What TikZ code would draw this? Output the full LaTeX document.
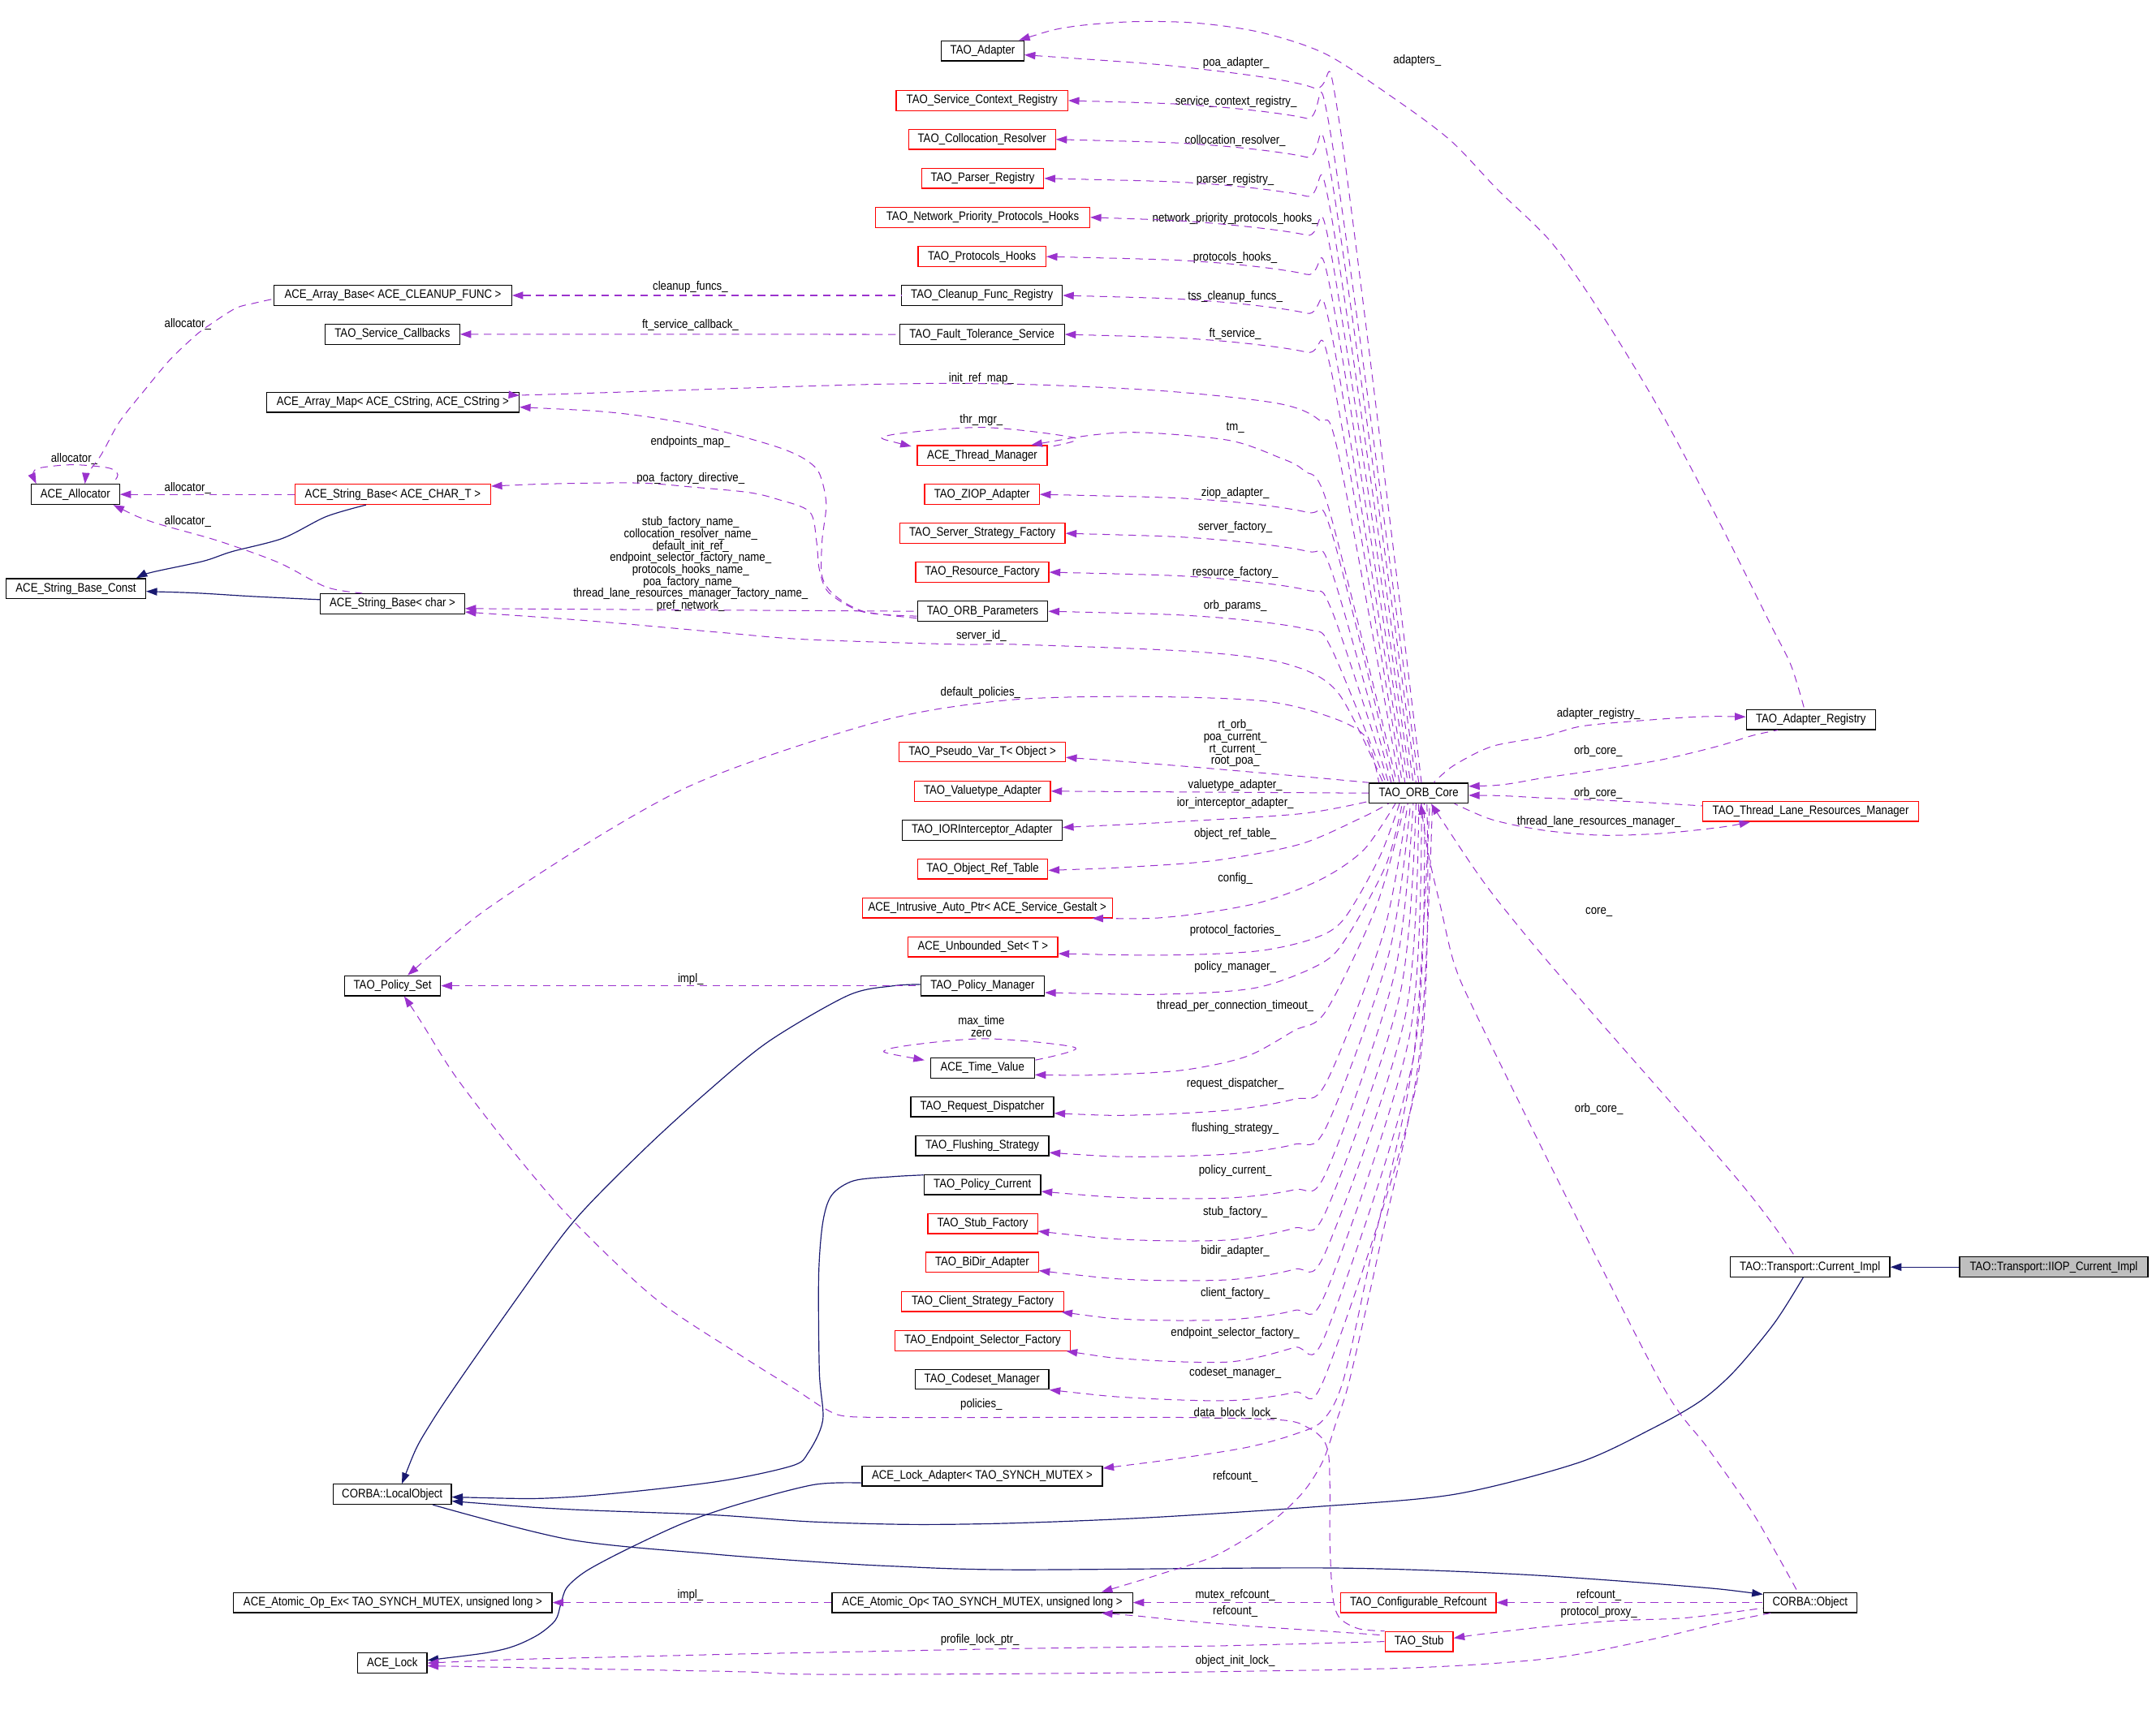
\documentclass[tikz,border=0pt]{standalone}
\usepackage{fontspec}
\setmainfont{Liberation Sans}[FakeStretch=0.867]
\usepackage{tikz}
\usetikzlibrary{arrows.meta}
\definecolor{usesviolet}{RGB}{154,50,205}
\definecolor{inheritblue}{RGB}{25,25,112}
\definecolor{selfgray}{RGB}{191,191,191}
\tikzset{
  classnode/.style = {rectangle, draw=black, fill=white, line width=0.75pt,
    inner sep=0pt, minimum height=14.6pt, font=\fontsize{9}{8.7}\selectfont},
  black_node/.style = {classnode},
  red_node/.style = {classnode, draw=red},
  self_node/.style = {classnode, fill=selfgray},
  edge_label/.style = {inner sep=0pt, align=center,
    font=\fontsize{9}{8.7}\selectfont},
  uses_edge/.style = {<-, draw=usesviolet, line width=0.6pt,
    dash pattern=on 5.5pt off 4pt},
  inherit_edge/.style = {<-, draw=inheritblue, line width=0.7pt}
}

\begin{document}
\begin{tikzpicture}[
    x=1pt, y=-1pt,
    >={Triangle[length=8pt,width=5.5pt]}
    ]
  \useasboundingbox (0,0) rectangle (1568,1265);

  % classes, far left and left column
  \node[black_node, minimum width=64.4pt] (allocator) at (54.9,360.3) {ACE\_Allocator};
  \node[black_node, minimum width=101.6pt] (strconst) at (55.3,429) {ACE\_String\_Base\_Const};
  \node[black_node, minimum width=173pt] (arraybase) at (286.3,215.3) {ACE\_Array\_Base< ACE\_CLEANUP\_FUNC >};
  \node[black_node, minimum width=98pt] (svccallbacks) at (285.9,243.6) {TAO\_Service\_Callbacks};
  \node[black_node, minimum width=184pt] (arraymap) at (286.2,293.2) {ACE\_Array\_Map< ACE\_CString, ACE\_CString >};
  \node[red_node, minimum width=142.6pt] (strbasechart) at (286.2,360.3) {ACE\_String\_Base< ACE\_CHAR\_T >};
  \node[black_node, minimum width=105pt] (strbasechar) at (286,440) {ACE\_String\_Base< char >};
  \node[black_node, minimum width=70pt] (policyset) at (286,718.4) {TAO\_Policy\_Set};
  \node[black_node, minimum width=86pt] (localobj) at (285.8,1089) {CORBA::LocalObject};
  \node[black_node, minimum width=232pt] (atomicex) at (286.2,1167.9) {ACE\_Atomic\_Op\_Ex< TAO\_SYNCH\_MUTEX, unsigned long >};
  \node[black_node, minimum width=50.6pt] (acelock) at (285.8,1212) {ACE\_Lock};

  % classes, middle column
  \node[black_node, minimum width=60pt] (adapter) at (716,37) {TAO\_Adapter};
  \node[red_node, minimum width=125pt] (svcctx) at (715.5,73.3) {TAO\_Service\_Context\_Registry};
  \node[red_node, minimum width=107pt] (colloc) at (715.5,101.6) {TAO\_Collocation\_Resolver};
  \node[red_node, minimum width=89pt] (parser) at (716,130) {TAO\_Parser\_Registry};
  \node[red_node, minimum width=156pt] (netprio) at (716,158.4) {TAO\_Network\_Priority\_Protocols\_Hooks};
  \node[red_node, minimum width=93pt] (prothooks) at (715.5,187) {TAO\_Protocols\_Hooks};
  \node[black_node, minimum width=117pt] (cleanup) at (715.5,215.3) {TAO\_Cleanup\_Func\_Registry};
  \node[black_node, minimum width=120pt] (ftservice) at (715.5,243.7) {TAO\_Fault\_Tolerance\_Service};
  \node[red_node, minimum width=94.6pt] (thrmgr) at (715.7,332) {ACE\_Thread\_Manager};
  \node[red_node, minimum width=83.5pt] (ziop) at (715.5,360.3) {TAO\_ZIOP\_Adapter};
  \node[red_node, minimum width=120.5pt] (srvfactory) at (715.8,388.7) {TAO\_Server\_Strategy\_Factory};
  \node[red_node, minimum width=97pt] (resfactory) at (715.7,417) {TAO\_Resource\_Factory};
  \node[black_node, minimum width=95pt] (orbparams) at (716,445.5) {TAO\_ORB\_Parameters};
  \node[red_node, minimum width=121pt] (pseudovar) at (715.7,548) {TAO\_Pseudo\_Var\_T< Object >};
  \node[red_node, minimum width=99pt] (valuetype) at (715.9,576.6) {TAO\_Valuetype\_Adapter};
  \node[black_node, minimum width=116.6pt] (iorinterceptor) at (715.6,605) {TAO\_IORInterceptor\_Adapter};
  \node[red_node, minimum width=95pt] (objreftable) at (716,633.3) {TAO\_Object\_Ref\_Table};
  \node[red_node, minimum width=182pt] (autoptr) at (719.4,661.6) {ACE\_Intrusive\_Auto\_Ptr< ACE\_Service\_Gestalt >};
  \node[red_node, minimum width=109pt] (unboundedset) at (716.2,690) {ACE\_Unbounded\_Set< T >};
  \node[black_node, minimum width=90pt] (policymgr) at (715.9,718.4) {TAO\_Policy\_Manager};
  \node[black_node, minimum width=75.7pt] (timevalue) at (715.8,778.3) {ACE\_Time\_Value};
  \node[black_node, minimum width=104pt] (reqdisp) at (715.7,806.6) {TAO\_Request\_Dispatcher};
  \node[black_node, minimum width=97pt] (flushing) at (715.7,835) {TAO\_Flushing\_Strategy};
  \node[black_node, minimum width=85pt] (policycur) at (715.8,863.3) {TAO\_Policy\_Current};
  \node[red_node, minimum width=80pt] (stubfactory) at (716,891.7) {TAO\_Stub\_Factory};
  \node[red_node, minimum width=82pt] (bidir) at (715.6,920) {TAO\_BiDir\_Adapter};
  \node[red_node, minimum width=118pt] (clientfactory) at (716,948.5) {TAO\_Client\_Strategy\_Factory};
  \node[red_node, minimum width=128pt] (endpointfactory) at (716,977) {TAO\_Endpoint\_Selector\_Factory};
  \node[black_node, minimum width=97.5pt] (codeset) at (715.5,1005.2) {TAO\_Codeset\_Manager};
  \node[black_node, minimum width=175pt] (lockadapter) at (715.7,1075.7) {ACE\_Lock\_Adapter< TAO\_SYNCH\_MUTEX >};
  \node[black_node, minimum width=219pt] (atomicop) at (715.7,1167.9) {ACE\_Atomic\_Op< TAO\_SYNCH\_MUTEX, unsigned long >};

  % classes, right part
  \node[black_node, minimum width=72pt] (orbcore) at (1033.7,578) {TAO\_ORB\_Core};
  \node[red_node, minimum width=113pt] (cfgrefcount) at (1033.5,1167.9) {TAO\_Configurable\_Refcount};
  \node[red_node, minimum width=49.5pt] (stub) at (1034,1196.3) {TAO\_Stub};
  \node[black_node, minimum width=94pt] (adapterreg) at (1319.4,524.4) {TAO\_Adapter\_Registry};
  \node[red_node, minimum width=157pt] (tlrm) at (1319.3,591.3) {TAO\_Thread\_Lane\_Resources\_Manager};
  \node[black_node, minimum width=116.4pt] (transportcur) at (1318.8,923.4) {TAO::Transport::Current\_Impl};
  \node[self_node, minimum width=137.2pt] (iiopcur) at (1496.4,923.4) {TAO::Transport::IIOP\_Current\_Impl};
  \node[black_node, minimum width=68pt] (corbaobj) at (1318.9,1167.9) {CORBA::Object};

  % member labels
  \node[edge_label] (l adapters) at (1032.6,44.4) {adapters\_};
  \node[edge_label] (l poa adapter) at (900.6,46) {poa\_adapter\_};
  \node[edge_label] (l svcctx) at (900.6,74.5) {service\_context\_registry\_};
  \node[edge_label] (l colloc) at (900,102.7) {collocation\_resolver\_};
  \node[edge_label] (l parser) at (900,131) {parser\_registry\_};
  \node[edge_label] (l netprio) at (900,159.5) {network\_priority\_protocols\_hooks\_};
  \node[edge_label] (l prothooks) at (900,187.7) {protocols\_hooks\_};
  \node[edge_label] (l cleanup) at (503,209) {cleanup\_funcs\_};
  \node[edge_label] (l tss) at (900,216.3) {tss\_cleanup\_funcs\_};
  \node[edge_label] (l alloc a) at (136.8,236) {allocator\_};
  \node[edge_label] (l ftcallback) at (503,237) {ft\_service\_callback\_};
  \node[edge_label] (l ftservice) at (900,243.4) {ft\_service\_};
  \node[edge_label] (l initref) at (715,276) {init\_ref\_map\_};
  \node[edge_label] (l thrmgr) at (715,306) {thr\_mgr\_};
  \node[edge_label] (l tm) at (900,312) {tm\_};
  \node[edge_label] (l endpoints) at (503,322) {endpoints\_map\_};
  \node[edge_label] (l alloc self) at (54.1,334.5) {allocator\_};
  \node[edge_label] (l poadirective) at (503.2,348.9) {poa\_factory\_directive\_};
  \node[edge_label] (l alloc b) at (136.8,355.8) {allocator\_};
  \node[edge_label] (l ziop) at (900,359.4) {ziop\_adapter\_};
  \node[edge_label] (l alloc c) at (136.8,379.9) {allocator\_};
  \node[edge_label] (l srvfactory) at (900,384.4) {server\_factory\_};
  \node[edge_label] (l names) at (503.2,411.2) {stub\_factory\_name\_\\collocation\_resolver\_name\_\\default\_init\_ref\_\\endpoint\_selector\_factory\_name\_\\protocols\_hooks\_name\_\\poa\_factory\_name\_\\thread\_lane\_resources\_manager\_factory\_name\_\\pref\_network\_};
  \node[edge_label] (l resfactory) at (900,417.3) {resource\_factory\_};
  \node[edge_label] (l orbparams) at (900,441.6) {orb\_params\_};
  \node[edge_label] (l serverid) at (715,463.6) {server\_id\_};
  \node[edge_label] (l defpolicies) at (714.4,504.6) {default\_policies\_};
  \node[edge_label] (l adapterreg) at (1164.7,520.4) {adapter\_registry\_};
  \node[edge_label] (l pseudo) at (900,541.7) {rt\_orb\_\\poa\_current\_\\rt\_current\_\\root\_poa\_};
  \node[edge_label] (l orbcore a) at (1164.5,547.6) {orb\_core\_};
  \node[edge_label] (l valuetype) at (900,572.3) {valuetype\_adapter\_};
  \node[edge_label] (l orbcore b) at (1164.5,578.2) {orb\_core\_};
  \node[edge_label] (l ior) at (900,585.5) {ior\_interceptor\_adapter\_};
  \node[edge_label] (l tlrm) at (1165,599) {thread\_lane\_resources\_manager\_};
  \node[edge_label] (l objref) at (900,607.7) {object\_ref\_table\_};
  \node[edge_label] (l config) at (900,640.6) {config\_};
  \node[edge_label] (l core) at (1165,665) {core\_};
  \node[edge_label] (l protfact) at (900,678) {protocol\_factories\_};
  \node[edge_label] (l policymgr) at (900,704.7) {policy\_manager\_};
  \node[edge_label] (l impl a) at (503.2,713.6) {impl\_};
  \node[edge_label] (l tpct) at (900,733) {thread\_per\_connection\_timeout\_};
  \node[edge_label] (l maxtime) at (715,748) {max\_time\\zero};
  \node[edge_label] (l reqdisp) at (900,789.7) {request\_dispatcher\_};
  \node[edge_label] (l orbcore c) at (1165,808) {orb\_core\_};
  \node[edge_label] (l flushing) at (900,822.3) {flushing\_strategy\_};
  \node[edge_label] (l policycur) at (900,853.2) {policy\_current\_};
  \node[edge_label] (l stubfact) at (900,883.5) {stub\_factory\_};
  \node[edge_label] (l bidir) at (900,911.9) {bidir\_adapter\_};
  \node[edge_label] (l client) at (900,942.3) {client\_factory\_};
  \node[edge_label] (l endpoint) at (900,971.4) {endpoint\_selector\_factory\_};
  \node[edge_label] (l codeset) at (900,1000.5) {codeset\_manager\_};
  \node[edge_label] (l policies) at (715,1023.5) {policies\_};
  \node[edge_label] (l datablock) at (900,1030) {data\_block\_lock\_};
  \node[edge_label] (l refcount a) at (900,1076.3) {refcount\_};
  \node[edge_label] (l impl b) at (503,1162.6) {impl\_};
  \node[edge_label] (l mutexref) at (900,1162.6) {mutex\_refcount\_};
  \node[edge_label] (l refcount b) at (1165,1162.6) {refcount\_};
  \node[edge_label] (l refcount c) at (900,1174.5) {refcount\_};
  \node[edge_label] (l proxy) at (1165,1175) {protocol\_proxy\_};
  \node[edge_label] (l profilelock) at (714,1195) {profile\_lock\_ptr\_};
  \node[edge_label] (l initlock) at (900,1210.5) {object\_init\_lock\_};

  % inheritance
  \draw[inherit_edge] (transportcur.east) -- (iiopcur.west);
  \draw[inherit_edge] plot[smooth] coordinates {([yshift=-5pt]localobj.east) (415,1100) (519,1104) (591,1109) (665,1111) (739,1110) (837,1106) (960,1098) (1060,1089) (1150,1066) (1204,1041) (1239,1021) (1264,999) (1293,964) ([xshift=-5pt]transportcur.south)};
  \draw[inherit_edge] plot[smooth] coordinates {([yshift=-2pt]localobj.east) (415,1091) (518.6,1080.3) (576.6,1068.4) (589,1058.5) (599.5,1035) (597,1000) (596.5,930) (599.5,891) (606,871) (622,860.5) (650.5,857.5) ([yshift=7pt]policycur.west)};
  \draw[inherit_edge] plot[smooth] coordinates {([xshift=7pt]localobj.north) (315.3,1035) (377.5,945) (419,889) (469,838) (514.5,796.4) (560,759) (618,725.4) (650.5,718.5) ([yshift=1pt]policymgr.west)};
  \draw[inherit_edge] plot[smooth] coordinates {([yshift=6pt]corbaobj.west) (1229,1156) (1106,1147.3) (969,1142.7) (738.5,1144) (650.5,1141.4) (591,1138) (518.6,1132.5) (415,1122) ([xshift=29.5pt]localobj.south)};
  \draw[inherit_edge] plot[smooth] coordinates {([yshift=2pt]acelock.east) (365,1202.4) (390,1192.6) (404.5,1181) (408.6,1169) (413,1157) (427,1145) (456,1129.5) (498,1110) (539,1096) (593,1082) ([yshift=-5pt]lockadapter.west)};
  \draw[inherit_edge] plot[smooth] coordinates {([xshift=44pt]strconst.north) (111,417) (148,409) (169,402) (206,392.3) (237.6,376.5) ([xshift=-19.5pt]strbasechart.south)};
  \draw[inherit_edge] plot[smooth] coordinates {([yshift=-2pt]strconst.east) (145,432.3) (184.8,434.7) ([yshift=3pt]strbasechar.west)};

  % left cluster members
  \draw[uses_edge] (arraybase.east) -- (cleanup.west);
  \draw[uses_edge] (svccallbacks.east) -- (ftservice.west);
  \draw[uses_edge] plot[smooth] coordinates {([xshift=7pt]allocator.north) (64,345) (74,331) (87,307.5) (105.6,284) (124,262) (142.6,244.4) (153,236.6) (171.6,224.7) (185,221) ([yshift=-2.5pt]arraybase.west)};
  \draw[uses_edge] plot[smooth] coordinates {([xshift=-28.5pt]allocator.north) (24,345) (29,341) (53,338.7) (79,341) (85.8,346) ([xshift=27pt]allocator.north)};
  \draw[uses_edge] (allocator.east) -- (strbasechart.west);
  \draw[uses_edge] plot[smooth] coordinates {([xshift=-5pt]allocator.south east) (111,380.4) (158.5,394) (203,410) (237.6,427.8) ([xshift=-22pt]strbasechar.north)};
  \draw[uses_edge] plot[smooth] coordinates {([yshift=-3.5pt]arraymap.east) (450,301) (503,309) (540,318) (570,327) (587,335) (597,345) (602,367) (599,394) (599,420) (608,433.7) (629,445.5) ([yshift=-5pt]orbparams.west)};
  \draw[uses_edge] plot[smooth] coordinates {([yshift=6pt]strbasechart.east) (406,352.5) (466,352) (505,355) (545,358.8) (566,363.7) (590,373) (595,395) (597,415) (604,432) (629,446) ([yshift=-3.5pt]orbparams.west)};
  \draw[uses_edge] ([yshift=-3.5pt]strbasechar.east) -- (orbparams.west);
  \draw[uses_edge] (policyset.east) -- (policymgr.west);
  \draw[uses_edge] (atomicex.east) -- (atomicop.west);

  % TAO_ORB_Core members, upper rows
  \draw[uses_edge] plot[smooth] coordinates {([yshift=-3pt]adapter.east) (872,50) (957,64) (976,90) ([xshift=2pt]orbcore.north)};
  \draw[uses_edge] plot[smooth] coordinates {(svcctx.east) (880,77.3) (952,86.3) (970,100.3) (orbcore.north)};
  \draw[uses_edge] plot[smooth] coordinates {(colloc.east) (880,105.6) (952,114.6) (970,128.6) ([xshift=-2pt]orbcore.north)};
  \draw[uses_edge] plot[smooth] coordinates {(parser.east) (880,134) (952,143) (970,157) ([xshift=-4pt]orbcore.north)};
  \draw[uses_edge] plot[smooth] coordinates {(netprio.east) (880,162.4) (952,171.4) (970,185.4) ([xshift=-6pt]orbcore.north)};
  \draw[uses_edge] plot[smooth] coordinates {(prothooks.east) (880,191) (952,200) (970,214) ([xshift=-8pt]orbcore.north)};
  \draw[uses_edge] plot[smooth] coordinates {(cleanup.east) (880,219.3) (952,228.3) (970,242.3) ([xshift=-10pt]orbcore.north)};
  \draw[uses_edge] plot[smooth] coordinates {(ftservice.east) (880,247.7) (952,256.7) (970,270.7) ([xshift=-12pt]orbcore.north)};
  \draw[uses_edge] plot[smooth] coordinates {([yshift=5pt]arraymap.east) (414,287) (640,280) (742,280) (849,285) (931,294) (961,306) (975,330) ([xshift=-14pt]orbcore.north)};
  \draw[uses_edge] plot[smooth] coordinates {([xshift=-12pt]thrmgr.north east) (802,316.4) (837,315.4) (896,321) (931,333) (950,343) (968,370) ([xshift=-16pt]orbcore.north)};
  \draw[uses_edge] plot[smooth] coordinates {([xshift=-4pt,yshift=-1pt]thrmgr.north west) (647,317.4) (716,311.5) (783.6,319.3) ([yshift=-1.5pt]thrmgr.north east)};
  \draw[uses_edge] plot[smooth] coordinates {(ziop.east) (880,364.3) (952,373.3) (970,387.3) ([xshift=-18pt]orbcore.north)};
  \draw[uses_edge] plot[smooth] coordinates {(srvfactory.east) (880,392.7) (952,401.7) (970,415.7) ([xshift=-20pt]orbcore.north)};
  \draw[uses_edge] plot[smooth] coordinates {(resfactory.east) (880,421) (952,430) (970,444) ([xshift=-22pt]orbcore.north)};
  \draw[uses_edge] plot[smooth] coordinates {(orbparams.east) (880,449.5) (952,458.5) (970,472.5) ([xshift=-24pt]orbcore.north)};
  \draw[uses_edge] plot[smooth] coordinates {([yshift=-6pt]strbasechar.east) (436,453) (526,461) (587,466) (698,469.6) (739,469.6) (872,475) (938,484) (975,505) ([xshift=-26pt]orbcore.north)};
  \draw[uses_edge] plot[smooth] coordinates {([xshift=11pt]policyset.north) (373,650) (500,574) (638.7,526.3) (731.5,510.5) (824,507.6) (917,510.5) (963,520.4) (994,536) ([xshift=-29pt]orbcore.north)};

  % TAO_ORB_Core members, side rows
  \draw[uses_edge] plot[smooth] coordinates {([yshift=-4pt]pseudovar.east) (855,557.8) (948,565.8) (orbcore.north west)};
  \draw[uses_edge] (valuetype.east) -- (orbcore.west);
  \draw[uses_edge] plot[smooth] coordinates {([yshift=2pt]iorinterceptor.east) (855,599) (948,593) ([yshift=-6pt]orbcore.west)};
  \draw[uses_edge] plot[smooth] coordinates {([yshift=-1pt]objreftable.east) (824,631.8) (886,627) (948,615) (994,595) ([xshift=-22pt]orbcore.south)};
  \draw[uses_edge] plot[smooth] coordinates {([xshift=-15pt]autoptr.south east) (855,668) (917,658) (963,640.6) (994,619) ([xshift=-17pt]orbcore.south)};
  \draw[uses_edge] plot[smooth] coordinates {([yshift=-5pt]unboundedset.east) (855,696) (917,693) (957,684) (979,670) (1005,625) ([xshift=-14pt]orbcore.south)};
  \draw[uses_edge] plot[smooth] coordinates {([yshift=-5pt]policymgr.east) (855,724.4) (917,719.5) (963,702) (982,682) (1010,630) ([xshift=-12pt]orbcore.south)};

  % TAO_ORB_Core members, lower rows
  \draw[uses_edge] plot[smooth] coordinates {([yshift=-5pt]timevalue.east) (802,783.3) (861,780) (908,770) (943,751) (966,737) (1003,660) ([xshift=-10pt]orbcore.south)};
  \draw[uses_edge] plot[smooth] coordinates {([shift={(-4pt,-2pt)}]timevalue.north west) (647,764.6) (715.6,757) (783.6,763.5) ([yshift=-2pt]timevalue.north east)};
  \draw[uses_edge] plot[smooth] coordinates {([yshift=-4.7pt]reqdisp.east) (826,812.7) (896,809) (943,801) (966,789.5) (1008,680) ([xshift=-8pt]orbcore.south)};
  \draw[uses_edge] plot[smooth] coordinates {([yshift=-5pt]flushing.east) (826,843) (896,841) (943,834) (966,822) (1012,695) ([xshift=-6pt]orbcore.south)};
  \draw[uses_edge] plot[smooth] coordinates {([yshift=-5pt]policycur.east) (826,873) (896,873) (943,867) (966,855) (1016,710) ([xshift=-4pt]orbcore.south)};
  \draw[uses_edge] plot[smooth] coordinates {([yshift=-5.6pt]stubfactory.east) (826,903.6) (896,903.6) (943,895) (966,883) (1020,725) ([xshift=-2pt]orbcore.south)};
  \draw[uses_edge] plot[smooth] coordinates {([yshift=-6pt]bidir.east) (826,932.6) (896,932.6) (943,925) (966,912) (1024,740) (orbcore.south)};
  \draw[uses_edge] plot[smooth] coordinates {([xshift=-2pt]clientfactory.south east) (826,961.7) (896,961.7) (943,955) (966,942) (1027,755) ([xshift=2pt]orbcore.south)};
  \draw[uses_edge] plot[smooth] coordinates {([xshift=-3.4pt]endpointfactory.south east) (826,990.7) (896,992.5) (943,982) (966,972) (1030,770) ([xshift=4pt]orbcore.south)};
  \draw[uses_edge] plot[smooth] coordinates {(codeset.south east) (826,1018.7) (896,1020.7) (943,1014.6) (966,1002) (1033,785) ([xshift=6pt]orbcore.south)};
  \draw[uses_edge] plot[smooth] coordinates {([yshift=-2pt]lockadapter.north east) (861,1062.5) (910,1054.5) (944,1045) (964,1035) (979,1005) (1000,910) (1030,770) ([xshift=8pt]orbcore.south)};
  \draw[uses_edge] plot[smooth] coordinates {([xshift=-23pt]atomicop.north east) (846,1147) (886,1133.5) (925,1110) (949,1088) (964,1064.5) (974,1035) (983.5,1005) (1005,910) (1034,770) ([xshift=10pt]orbcore.south)};

  % right part
  \draw[uses_edge] plot[smooth] coordinates {([yshift=2pt]adapterreg.west) (1237,522.4) (1194,525.3) (1152,529.3) (1124,537) (1087,544) (1059,558) ([xshift=11pt]orbcore.north)};
  \draw[uses_edge] plot[smooth] coordinates {([yshift=5pt]orbcore.east) (1096,571.7) (1124,567) (1160,561.8) (1209,554) (1251,544) (1277,536) ([xshift=-24pt]adapterreg.south)};
  \draw[uses_edge] plot[smooth] coordinates {([yshift=-1.6pt]orbcore.east) (1096,580) (1124,581.5) (1152,582.5) (1194,584.5) ([yshift=4pt]tlrm.west)};
  \draw[uses_edge] plot[smooth] coordinates {([xshift=-44pt]tlrm.south) (1251,603.2) (1209,607.5) (1166,608.7) (1124,605) (1087,597.3) ([xshift=26pt]orbcore.south)};
  \draw[uses_edge] plot[smooth] coordinates {([xshift=-4pt]adapter.north east) (779,19.7) (825.6,15.8) (872,16.8) (919,23.7) (966,39.4) (1017.5,72.9) (1057,102.5) (1091,138) (1131,177.4) (1168,230.6) (1210,300) (1255,385) (1290,455) (1305,485) ([xshift=-4.7pt]adapterreg.north)};
  \draw[uses_edge] plot[smooth] coordinates {([xshift=9pt]orbcore.south) (1112,682) (1266,859.5) ([xshift=-11pt]transportcur.north)};
  \draw[uses_edge] plot[smooth] coordinates {([xshift=1.5pt]orbcore.south) (1040.8,622.8) (1050,662.4) (1059.4,701.8) (1074.6,737.3) (1140,870) (1212,1011) (1244,1055) (1278,1104) ([xshift=-9pt]corbaobj.north)};

  % bottom row
  \draw[uses_edge] (atomicop.east) -- (cfgrefcount.west);
  \draw[uses_edge] (cfgrefcount.east) -- (corbaobj.west);
  \draw[uses_edge] plot[smooth] coordinates {([xshift=-23pt]atomicop.south east) (827,1177.5) (861,1181) (910,1185) (984,1190) ([yshift=4.5pt]stub.west)};
  \draw[uses_edge] plot[smooth] coordinates {([yshift=2.5pt]stub.east) (1082,1190.6) (1131,1185) (1180,1181) (1229,1179) ([yshift=-4pt]corbaobj.west)};
  \draw[uses_edge] plot[smooth] coordinates {(acelock.east) (373,1209.4) (415,1208.4) (539,1205.4) (591,1204.4) (738.5,1201.5) (886,1199.5) (stub.west)};
  \draw[uses_edge] plot[smooth] coordinates {([yshift=-2pt]acelock.east) (415,1216) (539,1218.3) (591,1220.2) (738.5,1219.8) (886,1218.3) (1033,1215.3) (1131,1208.4) (1204,1194.6) (1253,1183) ([xshift=-28.7pt]corbaobj.south)};
  \draw[uses_edge] plot[smooth] coordinates {([xshift=8.5pt]policyset.south) (307,745) (332,784.6) (373,838) (415,887) (477,946) (540,988) (580,1013) (600,1026) (615,1032) (650,1033) (738.5,1033) (861,1033) (935,1035) (954,1041) (964,1049) (968,1060) (969,1084) (969,1124) (971,1163) (976,1179) (990,1187) (stub.north west)};
\end{tikzpicture}
\end{document}
